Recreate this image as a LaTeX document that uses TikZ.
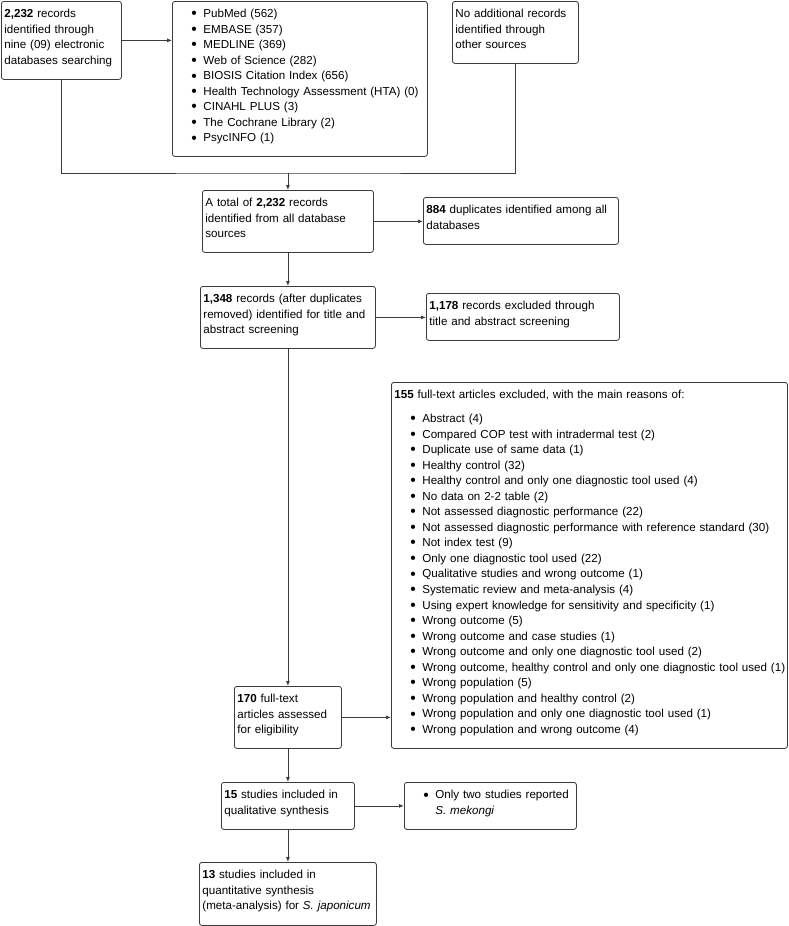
\documentclass[tikz,border=0pt]{standalone}
\usepackage{fontspec}
\setmainfont{Liberation Sans}
\usetikzlibrary{arrows.meta}
\definecolor{edge}{RGB}{60, 60, 60}
\newcommand{\itm}[1]{\mbox{\hspace*{16pt}\makebox[12pt][l]{\raisebox{-1.1pt}{\scalebox{1.35}{\textbullet}}}#1}}

\begin{document}
\begin{tikzpicture}[
  x=1pt, y=-1pt, >={Latex[length=5pt,width=4pt]},
  box/.style={draw=edge, line width=0.8pt, rounded corners=2.5pt, anchor=north west, align=left, inner xsep=3pt, inner ysep=4pt, text height=12.5pt, font=\fontsize{11.6}{15.4}\selectfont},
  link/.style={draw=edge, line width=0.8pt}
]
\useasboundingbox (0,0) rectangle (788,926);
% identification
\node[box, text width=114pt, text depth=57.5pt] (search) at (1,1) {\textbf{2,232} records\\identified through\\nine (09) electronic\\databases searching};
\node[box, text width=249pt, text depth=134.5pt, font=\fontsize{11.6}{15.5}\selectfont] (dblist) at (172,1) {\itm{PubMed (562)}\\\itm{EMBASE (357)}\\\itm{MEDLINE (369)}\\\itm{Web of Science (282)}\\\itm{BIOSIS Citation Index (656)}\\\itm{Health Technology Assessment (HTA) (0)}\\\itm{CINAHL PLUS (3)}\\\itm{The Cochrane Library (2)}\\\itm{PsycINFO (1)}};
\node[box, text width=120pt, text depth=41.5pt] (other) at (452,1) {No additional records\\identified through\\other sources};
% screening
\node[box, text width=165pt, text depth=41.5pt] (total) at (202,190) {A total of \textbf{2,232} records\\identified from all database\\sources};
\node[box, text width=189pt, text depth=26.5pt] (dups) at (423,197) {\textbf{884} duplicates identified among all\\databases};
\node[box, text width=169pt, text depth=41.5pt] (screen) at (200,286) {\textbf{1,348} records (after duplicates\\removed) identified for title and\\abstract screening};
\node[box, text width=187pt, text depth=26.5pt] (excl) at (426,293) {\textbf{1,178} records excluded through\\title and abstract screening};
% eligibility
\node[box, text width=390pt, text depth=345.5pt, font=\fontsize{11.6}{15.55}\selectfont] (reasons) at (391,382) {\textbf{155} full-text articles excluded, with the main reasons of:\\[8pt]
\itm{Abstract (4)}\\
\itm{Compared COP test with intradermal test (2)}\\
\itm{Duplicate use of same data (1)}\\
\itm{Healthy control (32)}\\
\itm{Healthy control and only one diagnostic tool used (4)}\\
\itm{No data on 2-2 table (2)}\\
\itm{Not assessed diagnostic performance (22)}\\
\itm{Not assessed diagnostic performance with reference standard (30)}\\
\itm{Not index test (9)}\\
\itm{Only one diagnostic tool used (22)}\\
\itm{Qualitative studies and wrong outcome (1)}\\
\itm{Systematic review and meta-analysis (4)}\\
\itm{Using expert knowledge for sensitivity and specificity (1)}\\
\itm{Wrong outcome (5)}\\
\itm{Wrong outcome and case studies (1)}\\
\itm{Wrong outcome and only one diagnostic tool used (2)}\\
\itm{Wrong outcome, healthy control and only one diagnostic tool used (1)}\\
\itm{Wrong population (5)}\\
\itm{Wrong population and healthy control (2)}\\
\itm{Wrong population and only one diagnostic tool used (1)}\\
\itm{Wrong population and wrong outcome (4)}};
\node[box, text width=101pt, text depth=41.5pt] (full) at (234,686) {\textbf{170} full-text\\articles assessed\\for eligibility};
% included
\node[box, text width=127pt, text depth=26.5pt] (quali) at (221,782) {\textbf{15} studies included in\\qualitative synthesis};
\node[box, text width=166pt, text depth=26.5pt] (mekongi) at (404,782) {\itm{Only two studies reported}\\\hspace*{28pt}\textit{S. mekongi}};
\node[box, text width=171pt, text depth=42.5pt] (quanti) at (199,862) {\textbf{13} studies included in\\quantitative synthesis\\(meta-analysis) for \textit{S. japonicum}};
\coordinate (merge) at ([yshift=17pt]total.north);

\draw[link, ->] (search.east) -- (search.east -| dblist.west);
\draw[link] (search.south) |- (merge) -| (other.south);
\draw[link, ->] (merge) -- (total.north);
\draw[link, ->] (total.east) -- (total.east -| dups.west);
\draw[link, ->] (total) -- (screen);
\draw[link, ->] (screen.east) -- (screen.east -| excl.west);
\draw[link, ->] (screen) -- (full);
\draw[link, ->] (full.east) -- (full.east -| reasons.west);
\draw[link, ->] (full) -- (quali);
\draw[link, ->] (quali) -- (mekongi);
\draw[link, ->] (quali) -- (quanti);
\end{tikzpicture}
\end{document}
